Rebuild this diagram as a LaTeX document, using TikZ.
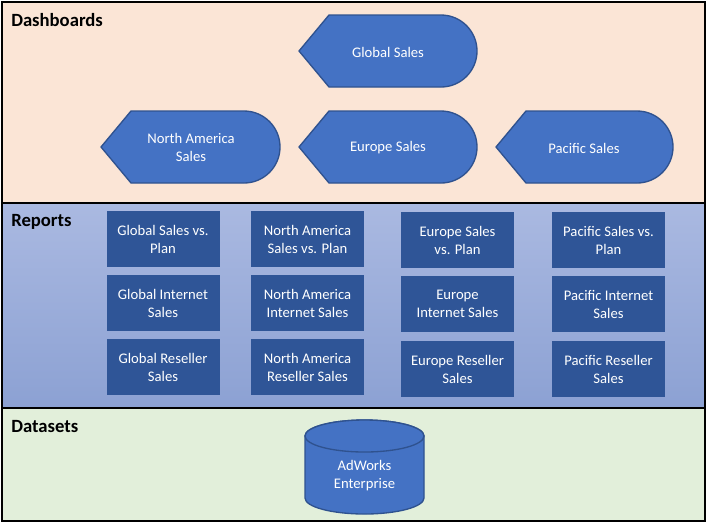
\documentclass[tikz,border=0pt]{standalone}
\usepackage{fontspec}
\setmainfont{Carlito}

\definecolor{dashbg}{RGB}{251,229,214}
\definecolor{databg}{RGB}{226,239,218}
\definecolor{reptop}{RGB}{170,185,225}
\definecolor{repbot}{RGB}{140,161,211}
\definecolor{dispblue}{RGB}{68,114,196}
\definecolor{dispedge}{RGB}{47,82,143}
\definecolor{repblue}{RGB}{47,85,151}

\tikzset{
	paneltitle/.style={anchor=base west, inner sep=0pt, font=\fontsize{14}{16}\selectfont\bfseries},
	dispshape/.style={fill=dispblue, draw=dispedge, line width=1pt},
	disptext/.style={text=white, align=center, inner sep=0pt, font=\fontsize{11}{13.5}\selectfont},
	reportbox/.style={fill=repblue, text=white, align=center, inner sep=0pt, minimum width=84.75pt, minimum height=42pt, font=\fontsize{11}{13.5}\selectfont},
}

\begin{document}
\begin{tikzpicture}[x=0.75pt,y=0.75pt,yscale=-1,xscale=1]
	\useasboundingbox (0,0) rectangle (709,526);
	
	%Panels
	\fill[dashbg] (2,2) rectangle (705,203);
	\shade[top color=reptop, bottom color=repbot] (2,203) rectangle (705,408);
	\fill[databg] (2,408) rectangle (705,521);
	\draw[line width=1.5pt] (2,2) rectangle (705,521);
	\draw[line width=2pt] (2,203) -- (705,203);
	\draw[line width=2pt] (2,408) -- (705,408);
	
	% Panel titles
	\node[paneltitle] (dashtitle) at (11,26) {Dashboards};
	\node[paneltitle] (reptitle) at (11,226) {Reports};
	\node[paneltitle] (datatitle) at (11,432) {Datasets};
	
	%Shape: Display [Global Sales]
	\draw[dispshape] (299,51) -- (329,15) -- (441,15) arc[start angle=-90,end angle=90,radius=36] -- (329,87) -- cycle;
	\node[disptext] (globalsales) at (388,52) {Global Sales};
	%Shape: Display [North America Sales]
	\draw[dispshape] (101,147) -- (131,111) -- (244,111) arc[start angle=-90,end angle=90,radius=36] -- (131,183) -- cycle;
	\node[disptext] (nasales) at (191,147) {North America\\Sales};
	%Shape: Display [Europe Sales]
	\draw[dispshape] (299,147) -- (329,111) -- (441,111) arc[start angle=-90,end angle=90,radius=36] -- (329,183) -- cycle;
	\node[disptext] (eusales) at (388,148) {Europe Sales};
	%Shape: Display [Pacific Sales]
	\draw[dispshape] (496,147) -- (526,111) -- (637,111) arc[start angle=-90,end angle=90,radius=36] -- (526,183) -- cycle;
	\node[disptext] (pacsales) at (584,148) {Pacific Sales};
	
	% Report boxes
	\node[reportbox] (glplan) at (163,239) {Global Sales vs.\\Plan};
	\node[reportbox] (glinternet) at (163,303) {Global Internet\\Sales};
	\node[reportbox] (glreseller) at (163,367) {Global Reseller\\Sales};
	\node[reportbox] (naplan) at (307.5,239) {North America\\Sales vs. Plan};
	\node[reportbox] (nainternet) at (307.5,303) {North America\\Internet Sales};
	\node[reportbox] (nareseller) at (307.5,367) {North America\\Reseller Sales};
	\node[reportbox] (euplan) at (457.5,240) {Europe Sales\\vs. Plan};
	\node[reportbox] (euinternet) at (457.5,304) {Europe\\Internet Sales};
	\node[reportbox] (eureseller) at (457.5,369) {Europe Reseller\\Sales};
	\node[reportbox] (pacplan) at (608.5,240) {Pacific Sales vs.\\Plan};
	\node[reportbox] (pacinternet) at (608.5,304) {Pacific Internet\\Sales};
	\node[reportbox] (pacreseller) at (608.5,369) {Pacific Reseller\\Sales};
	
	%Shape: Can [AdWorks]
	\draw[dispshape] (305,436) -- (305,498) arc[start angle=180,end angle=0,x radius=59.5,y radius=16] -- (424,436) arc[start angle=0,end angle=-180,x radius=59.5,y radius=16] -- cycle;
	\draw[dispshape] (364.5,436) ellipse [x radius=59.5, y radius=16];
	\node[disptext] (adworks) at (364.5,476) {AdWorks\\Enterprise};
	
\end{tikzpicture}
\end{document}
